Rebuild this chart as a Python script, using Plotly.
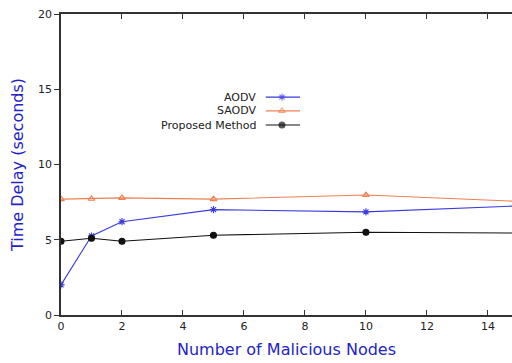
import plotly.graph_objects as go

nodes = [0, 1, 2, 5, 10, 15]
aodv = [2.0, 5.25, 6.2, 7.0, 6.85, 7.25]
saodv = [7.7, 7.72, 7.78, 7.7, 7.97, 7.55]
proposed = [4.9, 5.1, 4.9, 5.3, 5.5, 5.45]
series_names = ["AODV", "SAODV", "Proposed Method"]
x_ticks = [0, 2, 4, 6, 8, 10, 12, 14]
y_ticks = [0, 5, 10, 15, 20]

blue = "#3a3ae0"
orange = "#ee8050"
black = "#111111"
colors = [blue, orange, black]
symbols = ["asterisk-open", "triangle-up-open", "circle"]
sizes = [6, 6, 6]
values = [aodv, saodv, proposed]

fig = go.Figure()
for name, vals, c, s, sz in zip(series_names, values, colors, symbols, sizes):
    fig.add_trace(go.Scatter(
        x=nodes, y=vals, mode="lines+markers", name=name,
        line=dict(color=c, width=1.1),
        marker=dict(symbol=s, size=sz, color=c, line=dict(color=c, width=1.1)),
        cliponaxis=True, showlegend=False))

# manual legend (text on the left, sample on the right), on an overlay axis
leg_y = [0.724, 0.678, 0.631]
for name, c, s, sz, ly in zip(series_names, colors, symbols, sizes, leg_y):
    fig.add_trace(go.Scatter(
        x=[0.454, 0.49, 0.53], y=[ly, ly, ly], xaxis="x2", yaxis="y2",
        mode="lines+markers", showlegend=False, hoverinfo="skip",
        line=dict(color=c, width=1.1),
        marker=dict(symbol=s, size=[0, sz, 0], color=c, line=dict(color=c, width=1.1))))
    fig.add_annotation(x=0.437, y=ly, xref="x2", yref="y2", text=name,
                       showarrow=False, xanchor="right", yanchor="middle",
                       font=dict(size=11, color="#222"))

axis_common = dict(showline=True, linecolor="#333", linewidth=1.5,
                   showgrid=False, zeroline=False, tickcolor="#333",
                   tickfont=dict(size=11, color="#222", family="DejaVu Sans"))
fig.update_layout(
    width=512, height=363,
    margin=dict(l=61, r=0, t=14, b=48),
    paper_bgcolor="white", plot_bgcolor="white",
    font=dict(family="DejaVu Sans"),
    xaxis=dict(range=[0, 14.79], tickvals=x_ticks, ticks="inside", ticklen=5, mirror="ticks",
               title=dict(text="Number of Malicious Nodes", font=dict(size=16, color="#2323c8"), standoff=12),
               **axis_common),
    yaxis=dict(range=[0, 20], tickvals=y_ticks, ticks="outside", ticklen=5, mirror=False,
               title=dict(text="Time Delay (seconds)", font=dict(size=16, color="#2323c8"), standoff=10),
               **axis_common),
    xaxis2=dict(range=[0, 1], overlaying="x", visible=False, fixedrange=True),
    yaxis2=dict(range=[0, 1], overlaying="y", visible=False, fixedrange=True),
)
fig.write_html("out.html")
